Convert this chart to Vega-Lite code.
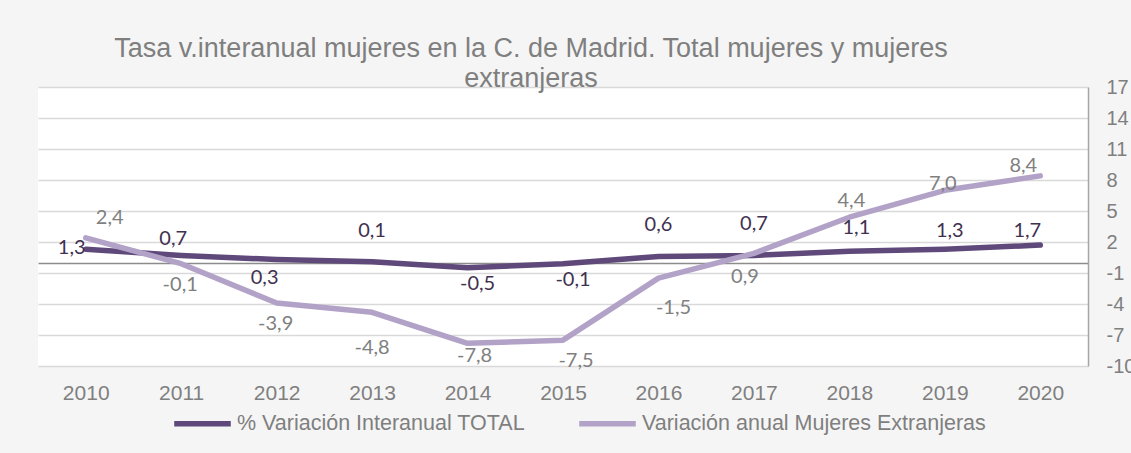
{
  "$schema": "https://vega.github.io/schema/vega-lite/v6.json",
  "width": 1050,
  "height": 279,
  "autosize": {"type": "none"},
  "padding": {"left": 38, "top": 87, "right": 43, "bottom": 87},
  "background": "#f5f5f5",
  "title": {
    "text": ["Tasa v.interanual mujeres en la C. de Madrid. Total mujeres y mujeres", "extranjeras"],
    "font": "Liberation Sans",
    "fontSize": 27,
    "fontWeight": "normal",
    "color": "#7f7f7f",
    "anchor": "middle",
    "frame": "group",
    "dx": -32,
    "offset": -16,
    "lineHeight": 30
  },
  "config": {
    "locale": {"number": {"decimal": ",", "thousands": ".", "grouping": [3], "currency": ["", " €"], "minus": "-"}},
    "view": {"fill": "white", "stroke": null}
  },
  "data": {
    "values": [
      {"year": "2010", "serie": "% Variación Interanual TOTAL", "value": 1.3},
      {"year": "2011", "serie": "% Variación Interanual TOTAL", "value": 0.7},
      {"year": "2012", "serie": "% Variación Interanual TOTAL", "value": 0.3},
      {"year": "2013", "serie": "% Variación Interanual TOTAL", "value": 0.1},
      {"year": "2014", "serie": "% Variación Interanual TOTAL", "value": -0.5},
      {"year": "2015", "serie": "% Variación Interanual TOTAL", "value": -0.1},
      {"year": "2016", "serie": "% Variación Interanual TOTAL", "value": 0.6},
      {"year": "2017", "serie": "% Variación Interanual TOTAL", "value": 0.7},
      {"year": "2018", "serie": "% Variación Interanual TOTAL", "value": 1.1},
      {"year": "2019", "serie": "% Variación Interanual TOTAL", "value": 1.3},
      {"year": "2020", "serie": "% Variación Interanual TOTAL", "value": 1.7},
      {"year": "2010", "serie": "Variación anual Mujeres Extranjeras", "value": 2.4},
      {"year": "2011", "serie": "Variación anual Mujeres Extranjeras", "value": -0.1},
      {"year": "2012", "serie": "Variación anual Mujeres Extranjeras", "value": -3.9},
      {"year": "2013", "serie": "Variación anual Mujeres Extranjeras", "value": -4.8},
      {"year": "2014", "serie": "Variación anual Mujeres Extranjeras", "value": -7.8},
      {"year": "2015", "serie": "Variación anual Mujeres Extranjeras", "value": -7.5},
      {"year": "2016", "serie": "Variación anual Mujeres Extranjeras", "value": -1.5},
      {"year": "2017", "serie": "Variación anual Mujeres Extranjeras", "value": 0.9},
      {"year": "2018", "serie": "Variación anual Mujeres Extranjeras", "value": 4.4},
      {"year": "2019", "serie": "Variación anual Mujeres Extranjeras", "value": 7.0},
      {"year": "2020", "serie": "Variación anual Mujeres Extranjeras", "value": 8.4}
    ]
  },
  "encoding": {
    "x": {
      "field": "year", "type": "ordinal", "title": null,
      "axis": {"labelAngle": 0, "domain": false, "ticks": false, "grid": false, "labelPadding": 16, "labelFontSize": 21, "labelColor": "#7f7f7f", "labelFont": "Liberation Sans"}
    },
    "y": {
      "field": "value", "type": "quantitative", "title": null,
      "scale": {"domain": [-10, 17], "nice": false, "zero": false},
      "axis": {
        "orient": "right",
        "values": [-10, -7, -4, -1, 0, 2, 5, 8, 11, 14, 17],
        "labelExpr": "datum.value === 0 ? '' : datum.label",
        "grid": true,
        "gridColor": {"condition": {"test": "datum.value === 0", "value": "#8c8c8c"}, "value": "#d9d9d9"},
        "gridWidth": 1.5,
        "domain": true, "domainColor": "#a6a6a6", "domainWidth": 1.5,
        "ticks": false, "labelPadding": 18, "labelFontSize": 20, "labelColor": "#7f7f7f", "labelFont": "Liberation Sans",
        "labelBound": false, "labelOverlap": false
      }
    }
  },
  "layer": [
    {
      "mark": {"type": "line", "strokeWidth": 5.5, "strokeCap": "round", "strokeJoin": "round"},
      "encoding": {
        "color": {
          "field": "serie", "type": "nominal",
          "scale": {"domain": ["% Variación Interanual TOTAL", "Variación anual Mujeres Extranjeras"], "range": ["#5f497a", "#b3a2c7"]},
          "legend": {"orient": "none", "legendX": 133, "legendY": 305, "direction": "horizontal", "title": null, "symbolType": "stroke", "symbolSize": 3200, "symbolStrokeWidth": 5.5, "labelFont": "Liberation Sans", "labelFontSize": 21.5, "labelColor": "#7f7f7f", "labelLimit": 600, "columnPadding": 42, "labelOffset": 3}
        }
      }
    },
    {
      "transform": [{"filter": {"and": [{"field": "serie", "equal": "% Variación Interanual TOTAL"}, {"field": "year", "oneOf": ["2010"]}]}}],
      "mark": {"type": "text", "font": "Lato", "fontSize": 20, "color": "#3f3151", "dx": -14, "dy": -1},
      "encoding": {"text": {"field": "value", "type": "quantitative", "format": ".1f"}}
    },
    {
      "transform": [{"filter": {"and": [{"field": "serie", "equal": "% Variación Interanual TOTAL"}, {"field": "year", "oneOf": ["2011"]}]}}],
      "mark": {"type": "text", "font": "Lato", "fontSize": 20, "color": "#3f3151", "dx": -8, "dy": -16},
      "encoding": {"text": {"field": "value", "type": "quantitative", "format": ".1f"}}
    },
    {
      "transform": [{"filter": {"and": [{"field": "serie", "equal": "% Variación Interanual TOTAL"}, {"field": "year", "oneOf": ["2012"]}]}}],
      "mark": {"type": "text", "font": "Lato", "fontSize": 20, "color": "#3f3151", "dx": -12, "dy": 18},
      "encoding": {"text": {"field": "value", "type": "quantitative", "format": ".1f"}}
    },
    {
      "transform": [{"filter": {"and": [{"field": "serie", "equal": "% Variación Interanual TOTAL"}, {"field": "year", "oneOf": ["2013", "2016", "2017"]}]}}],
      "mark": {"type": "text", "font": "Lato", "fontSize": 20, "color": "#3f3151", "dx": 0, "dy": -31},
      "encoding": {"text": {"field": "value", "type": "quantitative", "format": ".1f"}}
    },
    {
      "transform": [{"filter": {"and": [{"field": "serie", "equal": "% Variación Interanual TOTAL"}, {"field": "year", "oneOf": ["2014", "2015"]}]}}],
      "mark": {"type": "text", "font": "Lato", "fontSize": 20, "color": "#3f3151", "dx": 10, "dy": 16},
      "encoding": {"text": {"field": "value", "type": "quantitative", "format": ".1f"}}
    },
    {
      "transform": [{"filter": {"and": [{"field": "serie", "equal": "% Variación Interanual TOTAL"}, {"field": "year", "oneOf": ["2018"]}]}}],
      "mark": {"type": "text", "font": "Lato", "fontSize": 20, "color": "#3f3151", "dx": 7, "dy": -23},
      "encoding": {"text": {"field": "value", "type": "quantitative", "format": ".1f"}}
    },
    {
      "transform": [{"filter": {"and": [{"field": "serie", "equal": "% Variación Interanual TOTAL"}, {"field": "year", "oneOf": ["2019"]}]}}],
      "mark": {"type": "text", "font": "Lato", "fontSize": 20, "color": "#3f3151", "dx": 5, "dy": -18},
      "encoding": {"text": {"field": "value", "type": "quantitative", "format": ".1f"}}
    },
    {
      "transform": [{"filter": {"and": [{"field": "serie", "equal": "% Variación Interanual TOTAL"}, {"field": "year", "oneOf": ["2020"]}]}}],
      "mark": {"type": "text", "font": "Lato", "fontSize": 20, "color": "#3f3151", "dx": -13, "dy": -14},
      "encoding": {"text": {"field": "value", "type": "quantitative", "format": ".1f"}}
    },
    {
      "transform": [{"filter": {"and": [{"field": "serie", "equal": "Variación anual Mujeres Extranjeras"}, {"field": "year", "oneOf": ["2010"]}]}}],
      "mark": {"type": "text", "font": "Lato", "fontSize": 20, "color": "#808080", "dx": 24, "dy": -20},
      "encoding": {"text": {"field": "value", "type": "quantitative", "format": ".1f"}}
    },
    {
      "transform": [{"filter": {"and": [{"field": "serie", "equal": "Variación anual Mujeres Extranjeras"}, {"field": "year", "oneOf": ["2011", "2012"]}]}}],
      "mark": {"type": "text", "font": "Lato", "fontSize": 20, "color": "#808080", "dx": -1, "dy": 21},
      "encoding": {"text": {"field": "value", "type": "quantitative", "format": ".1f"}}
    },
    {
      "transform": [{"filter": {"and": [{"field": "serie", "equal": "Variación anual Mujeres Extranjeras"}, {"field": "year", "oneOf": ["2013"]}]}}],
      "mark": {"type": "text", "font": "Lato", "fontSize": 20, "color": "#808080", "dx": 0, "dy": 36},
      "encoding": {"text": {"field": "value", "type": "quantitative", "format": ".1f"}}
    },
    {
      "transform": [{"filter": {"and": [{"field": "serie", "equal": "Variación anual Mujeres Extranjeras"}, {"field": "year", "oneOf": ["2014"]}]}}],
      "mark": {"type": "text", "font": "Lato", "fontSize": 20, "color": "#808080", "dx": 7, "dy": 13},
      "encoding": {"text": {"field": "value", "type": "quantitative", "format": ".1f"}}
    },
    {
      "transform": [{"filter": {"and": [{"field": "serie", "equal": "Variación anual Mujeres Extranjeras"}, {"field": "year", "oneOf": ["2015"]}]}}],
      "mark": {"type": "text", "font": "Lato", "fontSize": 20, "color": "#808080", "dx": 13, "dy": 21},
      "encoding": {"text": {"field": "value", "type": "quantitative", "format": ".1f"}}
    },
    {
      "transform": [{"filter": {"and": [{"field": "serie", "equal": "Variación anual Mujeres Extranjeras"}, {"field": "year", "oneOf": ["2016"]}]}}],
      "mark": {"type": "text", "font": "Lato", "fontSize": 20, "color": "#808080", "dx": 15, "dy": 30},
      "encoding": {"text": {"field": "value", "type": "quantitative", "format": ".1f"}}
    },
    {
      "transform": [{"filter": {"and": [{"field": "serie", "equal": "Variación anual Mujeres Extranjeras"}, {"field": "year", "oneOf": ["2017"]}]}}],
      "mark": {"type": "text", "font": "Lato", "fontSize": 20, "color": "#808080", "dx": -9, "dy": 24},
      "encoding": {"text": {"field": "value", "type": "quantitative", "format": ".1f"}}
    },
    {
      "transform": [{"filter": {"and": [{"field": "serie", "equal": "Variación anual Mujeres Extranjeras"}, {"field": "year", "oneOf": ["2018"]}]}}],
      "mark": {"type": "text", "font": "Lato", "fontSize": 20, "color": "#808080", "dx": 2, "dy": -16},
      "encoding": {"text": {"field": "value", "type": "quantitative", "format": ".1f"}}
    },
    {
      "transform": [{"filter": {"and": [{"field": "serie", "equal": "Variación anual Mujeres Extranjeras"}, {"field": "year", "oneOf": ["2019"]}]}}],
      "mark": {"type": "text", "font": "Lato", "fontSize": 20, "color": "#808080", "dx": -2, "dy": -6},
      "encoding": {"text": {"field": "value", "type": "quantitative", "format": ".1f"}}
    },
    {
      "transform": [{"filter": {"and": [{"field": "serie", "equal": "Variación anual Mujeres Extranjeras"}, {"field": "year", "oneOf": ["2020"]}]}}],
      "mark": {"type": "text", "font": "Lato", "fontSize": 20, "color": "#808080", "dx": -17, "dy": -10},
      "encoding": {"text": {"field": "value", "type": "quantitative", "format": ".1f"}}
    }
  ]
}
